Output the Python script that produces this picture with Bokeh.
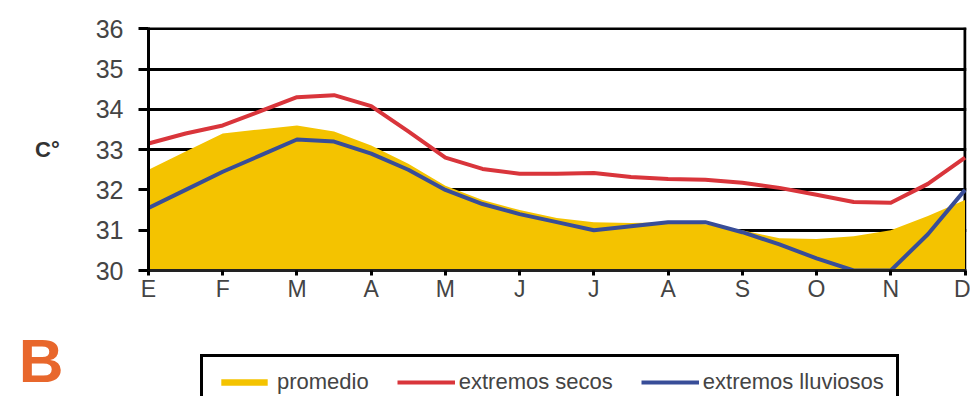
from bokeh.plotting import figure
from bokeh.layouts import column
from bokeh.models import (ColumnDataSource, FixedTicker, Legend, LegendItem, Span, Range1d)
from bokeh.embed import file_html
from bokeh.resources import INLINE

# ---- data (half-month resolution) ----
months = ["E", "F", "M", "A", "M", "J", "J", "A", "S", "O", "N", "D"]
month_pos = [0, 1, 2, 3, 4, 5, 6, 7, 8, 9, 10, 11]
t = [0.0, 0.5, 1.0, 1.5, 2.0, 2.5, 3.0, 3.5, 4.0, 4.5, 5.0, 5.5,
     6.0, 6.5, 7.0, 7.5, 8.0, 8.5, 9.0, 9.5, 10.0, 10.5, 11.0]
promedio = [32.5, 32.95, 33.4, 33.5, 33.6, 33.45, 33.1, 32.65, 32.1, 31.75, 31.5, 31.3,
            31.2, 31.18, 31.2, 31.15, 31.0, 30.8, 30.78, 30.85, 31.0, 31.35, 31.75]
secos = [33.15, 33.4, 33.6, 33.95, 34.3, 34.35, 34.08, 33.45, 32.8, 32.52, 32.4, 32.4,
         32.42, 32.32, 32.27, 32.25, 32.18, 32.05, 31.88, 31.7, 31.68, 32.15, 32.8]
lluviosos = [31.55, 32.0, 32.45, 32.85, 33.25, 33.2, 32.9, 32.5, 32.0, 31.65, 31.4, 31.2,
             31.0, 31.1, 31.2, 31.2, 30.95, 30.65, 30.3, 30.0, 30.0, 30.9, 32.0]
y_ticks = [30, 31, 32, 33, 34, 35, 36]
series_labels = ["promedio", "extremos secos", "extremos lluviosos"]
panel_letter = "B"

src = ColumnDataSource(dict(t=t, promedio=promedio, secos=secos, lluviosos=lluviosos,
                            base=[30] * len(t)))

YEL = "#F4C300"
RED = "#D9353B"
BLUE = "#384D98"
FONT = "Liberation Sans"


def draw_series(fig):
    ra = fig.varea(x="t", y1="base", y2="promedio", source=src, fill_color=YEL)
    rr = fig.line(x="t", y="secos", source=src, line_color=RED, line_width=4, line_join="round")
    rb = fig.line(x="t", y="lluviosos", source=src, line_color=BLUE, line_width=4, line_join="round")
    return ra, rr, rb


# ---------------- main chart ----------------
p = figure(width=970, height=304, output_backend="svg", toolbar_location=None,
           x_range=Range1d(0, 11.02), y_range=Range1d(30, 36.03),
           min_border_left=148, min_border_right=4, min_border_top=27, min_border_bottom=33)
p.outline_line_color = None
p.background_fill_color = "white"
p.border_fill_color = "white"

draw_series(p)

# right border (under the data)
p.add_layout(Span(location=11, dimension="height", line_color="black", line_width=3, level="underlay"))

p.xgrid.visible = False
p.ygrid.ticker = FixedTicker(ticks=y_ticks)
p.ygrid.grid_line_color = "black"
p.ygrid.grid_line_width = 3

ya = p.yaxis[0]
ya.ticker = FixedTicker(ticks=y_ticks)
ya.axis_line_color = "black"
ya.axis_line_width = 3
ya.major_tick_line_color = "black"
ya.major_tick_line_width = 3
ya.major_tick_out = 10
ya.major_tick_in = 0
ya.minor_tick_line_color = None
ya.major_label_standoff = 15
ya.major_label_text_font = FONT
ya.major_label_text_font_size = "25px"
ya.major_label_text_color = "#444444"
ya.axis_label = "C°"
ya.axis_label_orientation = "horizontal"
ya.axis_label_standoff = 33
ya.axis_label_text_font = FONT
ya.axis_label_text_font_style = "bold"
ya.axis_label_text_font_size = "22px"
ya.axis_label_text_color = "#333333"

xa = p.xaxis[0]
xa.ticker = FixedTicker(ticks=month_pos)
xa.major_label_overrides = {m: s for m, s in zip(month_pos, months)}
xa.axis_line_color = "#222222"
xa.axis_line_width = 3
xa.major_tick_line_color = "black"
xa.major_tick_line_width = 3
xa.major_tick_out = 5
xa.major_tick_in = 0
xa.minor_tick_line_color = None
xa.major_label_standoff = 0
xa.major_label_text_font = FONT
xa.major_label_text_font_size = "23px"
xa.major_label_text_color = "#444444"

# ---------------- legend strip with the panel letter ----------------
p2 = figure(width=970, height=92, output_backend="svg", toolbar_location=None,
            x_range=Range1d(0, 1), y_range=Range1d(0, 1),
            x_axis_location=None, y_axis_location="left",
            min_border_left=148, min_border_right=4, min_border_top=20, min_border_bottom=0)
p2.outline_line_color = None
p2.grid.visible = False
p2.background_fill_color = "white"
p2.border_fill_color = "white"
lr = draw_series(p2)  # same series, outside this strip's view; they feed the legend

ba = p2.yaxis[0]
ba.ticker = FixedTicker(ticks=[])
ba.axis_line_color = None
ba.major_tick_line_color = None
ba.minor_tick_line_color = None
ba.major_tick_out = 0
ba.major_tick_in = 0
ba.axis_label = panel_letter
ba.axis_label_orientation = "horizontal"
ba.axis_label_standoff = 85
ba.axis_label_text_font = FONT
ba.axis_label_text_font_style = "bold"
ba.axis_label_text_font_size = "62px"
ba.axis_label_text_color = "#E8672C"

legend = Legend(items=[LegendItem(label=lab, renderers=[r]) for lab, r in zip(series_labels, lr)],
                orientation="horizontal", location=(52, -14),
                glyph_width=58, glyph_height=8, label_height=26, label_standoff=4,
                spacing=28, padding=12, margin=0,
                label_text_font=FONT, label_text_font_size="22px",
                label_text_color="#444444",
                border_line_color="black", border_line_width=3, border_line_alpha=1,
                background_fill_color="white", background_fill_alpha=1)
p2.add_layout(legend, "center")

layout = column(p, p2, spacing=0)
open("out.html", "w").write(file_html(layout, INLINE))
